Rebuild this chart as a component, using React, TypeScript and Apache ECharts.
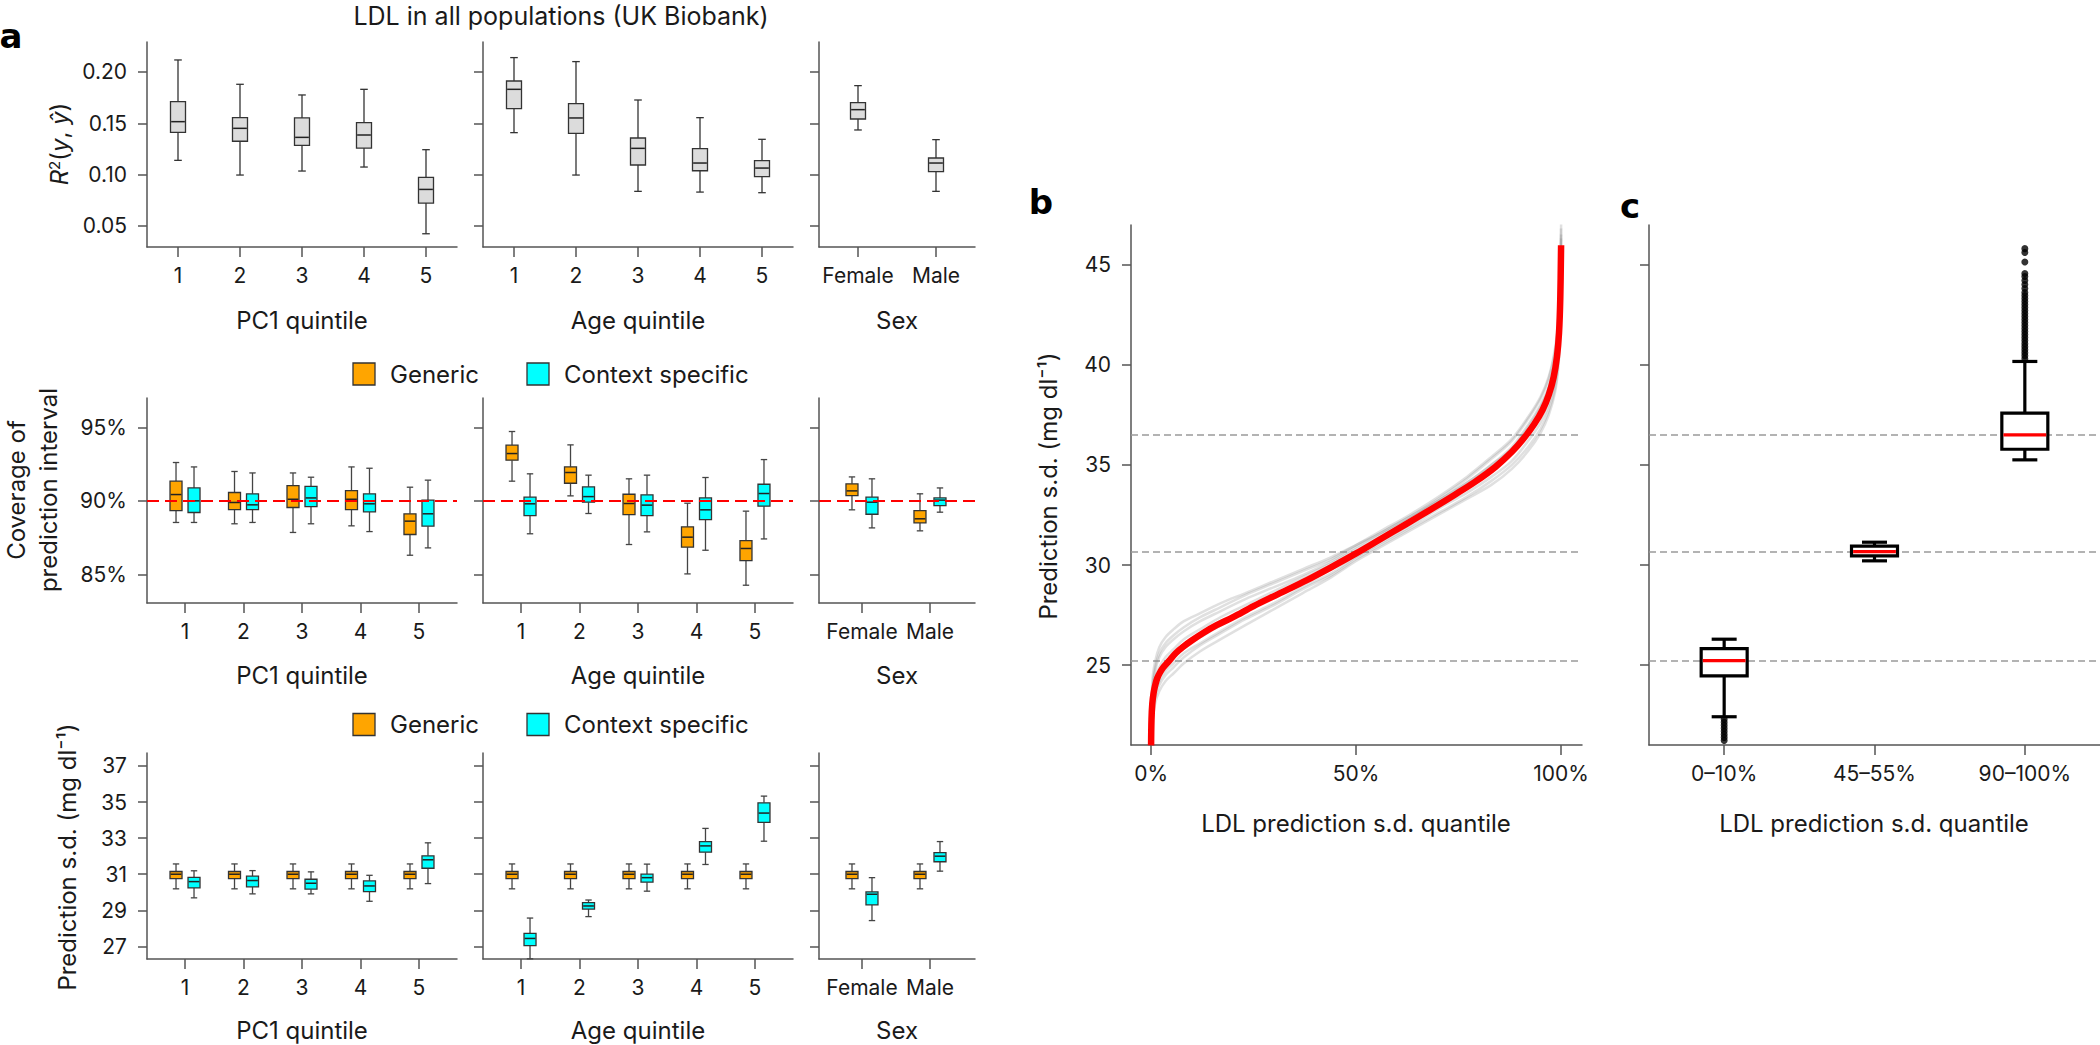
import React, { useEffect, useRef } from "react";
import * as echarts from "echarts";

// ---------- DATA ----------
// box rows: [lower whisker, Q1, median, Q3, upper whisker]
const quintileCats = ["1", "2", "3", "4", "5"];
const sexCats = ["Female", "Male"];
const cCats = ["0–10%", "45–55%", "90–100%"];

const pc1R2 = [
  [0.1139, 0.1412, 0.1516, 0.1711, 0.2117],
  [0.0996, 0.1325, 0.1451, 0.1555, 0.188],
  [0.1035, 0.1285, 0.1363, 0.1552, 0.1776],
  [0.1074, 0.1259, 0.1386, 0.1506, 0.1831],
  [0.0424, 0.0723, 0.0856, 0.0973, 0.1243],
];
const ageR2 = [
  [0.1409, 0.1643, 0.1831, 0.1912, 0.214],
  [0.0996, 0.1402, 0.1552, 0.1691, 0.2101],
  [0.0837, 0.1094, 0.1256, 0.1357, 0.1727],
  [0.083, 0.1038, 0.1113, 0.1253, 0.1555],
  [0.0824, 0.098, 0.1064, 0.1136, 0.1344],
];
const sexR2 = [
  [0.1435, 0.1542, 0.1633, 0.1701, 0.1867],
  [0.0837, 0.1029, 0.1113, 0.1162, 0.1341],
];

const pc1CovGen = [
  [88.53, 89.34, 90.43, 91.34, 92.61],
  [88.44, 89.41, 89.89, 90.57, 92.0],
  [87.85, 89.55, 90.11, 91.04, 91.9],
  [88.3, 89.41, 90.11, 90.7, 92.31],
  [86.3, 87.71, 88.62, 89.12, 90.93],
];
const pc1CovCtx = [
  [88.53, 89.21, 90.0, 90.88, 92.31],
  [88.53, 89.41, 89.73, 90.48, 91.9],
  [88.44, 89.61, 90.2, 90.98, 91.61],
  [87.91, 89.25, 89.8, 90.48, 92.22],
  [86.8, 88.28, 89.12, 90.05, 91.41],
];
const ageCovGen = [
  [91.34, 92.77, 93.22, 93.79, 94.72],
  [90.34, 91.2, 91.93, 92.31, 93.81],
  [87.03, 89.07, 89.82, 90.45, 91.5],
  [85.03, 86.85, 87.53, 88.23, 89.84],
  [84.26, 85.94, 86.76, 87.3, 89.3],
];
const ageCovCtx = [
  [87.76, 89.0, 89.8, 90.25, 91.84],
  [89.14, 89.91, 90.29, 90.95, 91.75],
  [87.89, 89.0, 89.71, 90.41, 91.75],
  [86.64, 88.73, 89.39, 90.2, 91.59],
  [87.41, 89.64, 90.5, 91.13, 92.81],
];
const sexCovGen = [
  [89.39, 90.36, 90.68, 91.16, 91.63],
  [87.96, 88.5, 88.78, 89.34, 90.48],
];
const sexCovCtx = [
  [88.16, 89.09, 89.91, 90.25, 91.5],
  [89.23, 89.68, 90.05, 90.2, 90.88],
];
const nominalCoverage = 90;

const pc1SdGen = [
  [30.19, 30.76, 31.0, 31.15, 31.57],
  [30.19, 30.76, 31.0, 31.15, 31.57],
  [30.19, 30.76, 31.0, 31.15, 31.57],
  [30.19, 30.76, 31.0, 31.15, 31.57],
  [30.19, 30.76, 31.0, 31.15, 31.57],
];
const pc1SdCtx = [
  [29.69, 30.24, 30.59, 30.83, 31.19],
  [29.91, 30.3, 30.65, 30.89, 31.2],
  [29.91, 30.17, 30.5, 30.72, 31.13],
  [29.5, 30.04, 30.35, 30.63, 30.94],
  [30.48, 31.33, 31.8, 32.02, 32.74],
];
const ageSdGen = [
  [30.19, 30.76, 31.0, 31.15, 31.57],
  [30.19, 30.76, 31.0, 31.15, 31.57],
  [30.19, 30.76, 31.0, 31.15, 31.57],
  [30.19, 30.76, 31.0, 31.15, 31.57],
  [30.19, 30.76, 31.0, 31.15, 31.57],
];
const ageSdCtx = [
  [26.31, 27.04, 27.44, 27.72, 28.57],
  [28.65, 29.07, 29.24, 29.43, 29.57],
  [30.06, 30.56, 30.81, 31.0, 31.56],
  [31.54, 32.22, 32.57, 32.81, 33.54],
  [32.83, 33.87, 34.39, 34.96, 35.33],
];
const sexSdGen = [
  [30.19, 30.76, 31.0, 31.15, 31.57],
  [30.19, 30.76, 31.0, 31.15, 31.57],
];
const sexSdCtx = [
  [28.43, 29.3, 29.89, 30.02, 30.81],
  [31.17, 31.69, 32.0, 32.2, 32.81],
];

// panel b: quantile (%) and prediction s.d. curves
const redQuant = [0, 0.1, 0.3, 0.6, 1, 1.5, 2.2, 3, 4.3, 6, 8, 10, 13, 16, 20, 25, 31, 38, 44, 50, 56, 62, 68, 74, 79, 84, 88, 91, 93.5, 95.5, 97, 98.2, 99, 99.5, 99.8, 100];
const redSd = [21.0, 22.3, 23.1, 23.6, 24.0, 24.35, 24.65, 24.9, 25.2, 25.6, 25.95, 26.25, 26.65, 27.0, 27.4, 27.95, 28.55, 29.25, 29.9, 30.58, 31.3, 32.02, 32.75, 33.5, 34.15, 34.9, 35.65, 36.35, 37.05, 37.75, 38.5, 39.4, 40.4, 41.6, 43.3, 45.96];
const grayQuant = [0, 0.3, 1, 2, 3.5, 5.5, 8, 12, 17, 23, 30, 37, 44, 50, 56, 63, 70, 77, 83, 88, 92, 95, 97, 98.5, 99.3, 99.8, 100];
const graySd = [
  [21.8, 24.2, 25.2, 25.9, 26.4, 26.8, 27.2, 27.6, 28.1, 28.6, 29.2, 29.8, 30.4, 31.0, 31.6, 32.4, 33.3, 34.3, 35.3, 36.2, 37.3, 38.3, 39.3, 40.6, 42.0, 44.3, 47.0],
  [21.0, 22.0, 23.1, 23.7, 24.2, 24.6, 25.1, 25.7, 26.3, 27.0, 27.8, 28.6, 29.4, 30.2, 30.9, 31.7, 32.5, 33.3, 34.0, 34.8, 35.7, 36.6, 37.5, 38.6, 39.8, 41.5, 44.0],
  [21.4, 23.6, 24.7, 25.4, 25.9, 26.3, 26.7, 27.2, 27.7, 28.3, 28.9, 29.5, 30.2, 30.9, 31.6, 32.4, 33.2, 34.1, 35.0, 35.9, 37.0, 38.0, 38.9, 40.2, 41.6, 43.8, 46.5],
  [21.1, 22.5, 23.6, 24.2, 24.7, 25.1, 25.6, 26.1, 26.7, 27.4, 28.1, 28.9, 29.6, 30.4, 31.1, 31.9, 32.8, 33.6, 34.4, 35.2, 36.2, 37.1, 38.0, 39.2, 40.4, 42.4, 45.2],
  [21.2, 23.1, 24.3, 24.9, 25.4, 25.8, 26.3, 26.8, 27.4, 28.0, 28.7, 29.4, 30.1, 30.8, 31.5, 32.3, 33.2, 34.1, 35.0, 35.8, 36.9, 37.9, 38.8, 40.0, 41.3, 43.5, 46.3],
  [21.0, 22.4, 23.4, 24.0, 24.5, 24.9, 25.4, 26.0, 26.6, 27.3, 28.0, 28.8, 29.5, 30.3, 31.0, 31.8, 32.6, 33.4, 34.2, 35.0, 35.9, 36.8, 37.7, 38.8, 40.1, 42.0, 44.8],
  [21.5, 23.8, 24.9, 25.6, 26.1, 26.5, 26.9, 27.4, 27.9, 28.5, 29.1, 29.7, 30.3, 31.0, 31.7, 32.5, 33.4, 34.4, 35.4, 36.3, 37.4, 38.4, 39.4, 40.8, 42.3, 44.6, 46.8],
  [21.1, 22.8, 23.9, 24.5, 25.0, 25.4, 25.9, 26.4, 27.0, 27.7, 28.4, 29.1, 29.8, 30.5, 31.3, 32.1, 33.0, 33.9, 34.8, 35.6, 36.6, 37.6, 38.6, 39.8, 41.1, 43.2, 45.6],
];
const refLines = [25.2, 30.65, 36.5];

// panel c
const cBoxes = [
  [22.43, 24.47, 25.23, 25.83, 26.3],
  [30.21, 30.46, 30.67, 30.94, 31.14],
  [35.25, 35.78, 36.5, 37.58, 40.16],
];
const cOutLow = [22.3, 22.15, 22.0, 21.85, 21.7, 21.55, 21.4, 21.25];
const cOutHigh = [45.79, 45.6, 45.12, 44.55, 44.4, 44.2, 44.0, 43.8, 43.6, 43.45, 43.3, 43.15, 43.0, 42.85, 42.7, 42.55, 42.4, 42.25, 42.1, 41.95, 41.8, 41.65, 41.5, 41.35, 41.2, 41.05, 40.9, 40.75, 40.6, 40.45, 40.3];

const r2Ticks = [0.05, 0.1, 0.15, 0.2];
const covTicks = [85, 90, 95];
const sdTicks = [27, 29, 31, 33, 35, 37];
const bTicksY = [25, 30, 35, 40, 45];
const bTicksX = [0, 50, 100];

// ---------- STYLE ----------
const FONT = 'Inter, "Noto Sans", "DejaVu Sans", sans-serif';
const AX = "#555";
const TXT = "#1a1a1a";
const ORANGE = "#FFA500";
const CYAN = "#00FFFF";
const TICK_FS = 21;
const TITLE_FS = 24;

function boxRender(o: any) {
  return (params: any, api: any) => {
    const x = api.value(0);
    const lo = api.coord([x, api.value(1)]);
    const q1 = api.coord([x, api.value(2)]);
    const md = api.coord([x, api.value(3)]);
    const q3 = api.coord([x, api.value(4)]);
    const hi = api.coord([x, api.value(5)]);
    const cx = lo[0] + o.shift;
    const ln = (x1: number, y1: number, x2: number, y2: number, stroke: string, w: number) => ({
      type: "line",
      shape: { x1, y1, x2, y2 },
      style: { stroke, lineWidth: w },
    });
    return {
      type: "group",
      children: [
        ln(cx, hi[1], cx, q3[1], o.whisker, o.lw),
        ln(cx, q1[1], cx, lo[1], o.whisker, o.lw),
        ln(cx - o.cap, hi[1], cx + o.cap, hi[1], o.whisker, o.lw),
        ln(cx - o.cap, lo[1], cx + o.cap, lo[1], o.whisker, o.lw),
        {
          type: "rect",
          shape: { x: cx - o.hw, y: q3[1], width: 2 * o.hw, height: q1[1] - q3[1] },
          style: { fill: o.fill, stroke: o.stroke, lineWidth: o.lw },
        },
        ln(cx - o.hw + o.lw / 2, md[1], cx + o.hw - o.lw / 2, md[1], o.med, o.medW),
      ],
    };
  };
}

function boxSeries(gi: number, rows: number[][], o: any, extra: any = {}) {
  return {
    type: "custom",
    xAxisIndex: gi,
    yAxisIndex: gi,
    renderItem: boxRender(o),
    encode: { x: 0, y: [1, 2, 3, 4, 5] },
    data: rows.map((r, i) => [i + 1, ...r]),
    clip: false,
    silent: true,
    z: 3,
    ...extra,
  };
}

function xAx(gi: number, min: number, max: number, vals: number[], fmt: (v: number) => string) {
  return {
    type: "value",
    gridIndex: gi,
    min,
    max,
    axisLine: { show: true, onZero: false, lineStyle: { color: AX, width: 1.5 } },
    axisTick: { show: true, customValues: vals, length: 10, lineStyle: { color: AX, width: 1.5 } },
    axisLabel: { show: true, customValues: vals, formatter: fmt, margin: 18, fontSize: TICK_FS, color: TXT, fontFamily: FONT },
    splitLine: { show: false },
  };
}
function yAx(gi: number, min: number, max: number, vals: number[], fmt: (v: number) => string, showLabel = true) {
  return {
    type: "value",
    gridIndex: gi,
    min,
    max,
    axisLine: { show: true, onZero: false, lineStyle: { color: AX, width: 1.5 } },
    axisTick: { show: true, customValues: vals, length: 9, lineStyle: { color: AX, width: 1.5 } },
    axisLabel: { show: showLabel, customValues: vals, formatter: fmt, margin: 20, fontSize: TICK_FS, color: TXT, fontFamily: FONT },
    splitLine: { show: false },
  };
}

function txt(x: number, y: number, text: string, fs: number, extra: any = {}, rot = 0) {
  return {
    type: "text",
    x,
    y,
    rotation: rot,
    silent: true,
    style: {
      text,
      fontSize: fs,
      fontFamily: FONT,
      fill: TXT,
      align: "center",
      verticalAlign: "middle",
      ...extra,
    },
  };
}

function buildOption() {
  const rowsTop = [42, 398, 753];
  const rowsH = [205, 205, 206];
  const cols = [
    { left: 147, width: 310 },
    { left: 483, width: 310 },
    { left: 819, width: 156 },
  ];
  const grids: any[] = [];
  for (let r = 0; r < 3; r++)
    for (let c = 0; c < 3; c++)
      grids.push({ left: cols[c].left, top: rowsTop[r], width: cols[c].width, height: rowsH[r], containLabel: false, outerBoundsMode: "none" });
  grids.push({ left: 1131, top: 225, width: 451, height: 520, containLabel: false, outerBoundsMode: "none" });
  grids.push({ left: 1649, top: 225, width: 451, height: 520, containLabel: false, outerBoundsMode: "none" });

  const qf = (v: number) => quintileCats[Math.round(v) - 1] ?? "";
  const sf = (v: number) => sexCats[Math.round(v) - 1] ?? "";
  const cf = (v: number) => cCats[Math.round(v) - 1] ?? "";
  const q5 = [1, 2, 3, 4, 5];
  const s2 = [1, 2];

  const xs: any[] = [
    xAx(0, 0.5, 5.5, q5, qf),
    xAx(1, 0.5, 5.5, q5, qf),
    xAx(2, 0.5, 2.5, s2, sf),
    xAx(3, 0.35, 5.65, q5, qf),
    xAx(4, 0.35, 5.65, q5, qf),
    xAx(5, 0.368, 2.662, s2, sf),
    xAx(6, 0.35, 5.65, q5, qf),
    xAx(7, 0.35, 5.65, q5, qf),
    xAx(8, 0.368, 2.662, s2, sf),
    xAx(9, -4.9, 105.1, bTicksX, (v: number) => v + "%"),
    xAx(10, 0.5, 3.5, [1, 2, 3], cf),
  ];
  const r2f = (v: number) => v.toFixed(2);
  const pf = (v: number) => v + "%";
  const nf = (v: number) => String(v);
  const ys: any[] = [
    yAx(0, 0.0295, 0.2292, r2Ticks, r2f),
    yAx(1, 0.0295, 0.2292, r2Ticks, r2f, false),
    yAx(2, 0.0295, 0.2292, r2Ticks, r2f, false),
    yAx(3, 83.05, 97.0, covTicks, pf),
    yAx(4, 83.05, 97.0, covTicks, pf, false),
    yAx(5, 83.05, 97.0, covTicks, pf, false),
    yAx(6, 26.3, 37.72, sdTicks, nf),
    yAx(7, 26.3, 37.72, sdTicks, nf, false),
    yAx(8, 26.3, 37.72, sdTicks, nf, false),
    yAx(9, 21.02, 46.97, bTicksY, nf),
    yAx(10, 21.02, 46.97, bTicksY, nf, false),
  ];

  const grayBox = { shift: 0, hw: 7.5, cap: 3.8, fill: "#dcdcdc", stroke: "#333", whisker: "#333", lw: 1.3, med: "#222", medW: 1.5 };
  const gen = (shift: number) => ({ shift, hw: 6, cap: 3.2, fill: ORANGE, stroke: "#333", whisker: "#444", lw: 1.3, med: "#222", medW: 1.5 });
  const ctx = (shift: number) => ({ shift, hw: 6, cap: 3.2, fill: CYAN, stroke: "#333", whisker: "#444", lw: 1.3, med: "#222", medW: 1.5 });
  const redRef = {
    silent: true,
    symbol: ["none", "none"],
    label: { show: false },
    lineStyle: { color: "#ff0000", type: [12, 6], width: 2 },
    data: [{ yAxis: nominalCoverage }],
  };
  const grayRef = {
    silent: true,
    z: 1,
    symbol: ["none", "none"],
    label: { show: false },
    lineStyle: { color: "#9a9a9a", type: [7, 4], width: 1.5 },
    data: refLines.map((v) => ({ yAxis: v })),
  };

  const series: any[] = [
    boxSeries(0, pc1R2, grayBox),
    boxSeries(1, ageR2, grayBox),
    boxSeries(2, sexR2, grayBox),
    boxSeries(3, pc1CovGen, gen(-9), { markLine: redRef }),
    boxSeries(3, pc1CovCtx, ctx(9)),
    boxSeries(4, ageCovGen, gen(-9), { markLine: redRef }),
    boxSeries(4, ageCovCtx, ctx(9)),
    boxSeries(5, sexCovGen, gen(-10), { markLine: redRef }),
    boxSeries(5, sexCovCtx, ctx(10)),
    boxSeries(6, pc1SdGen, gen(-9)),
    boxSeries(6, pc1SdCtx, ctx(9)),
    boxSeries(7, ageSdGen, gen(-9)),
    boxSeries(7, ageSdCtx, ctx(9)),
    boxSeries(8, sexSdGen, gen(-10)),
    boxSeries(8, sexSdCtx, ctx(10)),
  ];

  graySd.forEach((g, k) => {
    series.push({
      type: "line",
      xAxisIndex: 9,
      yAxisIndex: 9,
      data: grayQuant.map((q, i) => [q, g[i]]),
      showSymbol: false,
      symbol: "none",
      smooth: 0.35,
      silent: true,
      z: 2,
      lineStyle: { color: "rgba(130,130,130,0.25)", width: 2.5 },
      ...(k === 0 ? { markLine: grayRef } : {}),
    });
  });
  series.push({
    type: "line",
    xAxisIndex: 9,
    yAxisIndex: 9,
    data: redQuant.map((q, i) => [q, redSd[i]]),
    showSymbol: false,
    symbol: "none",
    smooth: 0.35,
    silent: true,
    z: 4,
    lineStyle: { color: "#ff0000", width: 6.5, cap: "butt", join: "round" },
  });

  series.push({
    type: "scatter",
    xAxisIndex: 10,
    yAxisIndex: 10,
    data: [...cOutLow.map((v) => [1, v]), ...cOutHigh.map((v) => [3, v])],
    symbol: "circle",
    symbolSize: 7,
    itemStyle: { color: "#000" },
    silent: true,
    z: 2,
    markLine: grayRef,
  });
  series.push(
    boxSeries(10, cBoxes, { shift: 0, hw: 23, cap: 12.5, fill: "#fff", stroke: "#000", whisker: "#000", lw: 3.2, med: "#ff0000", medW: 3.2 }, { z: 4 })
  );

  const rich = {
    i: { fontStyle: "italic", fontSize: TITLE_FS, fontFamily: FONT, fill: TXT },
    n: { fontSize: TITLE_FS, fontFamily: FONT, fill: TXT },
    sup: { fontSize: 15, fontFamily: FONT, fill: TXT, verticalAlign: "top" },
  };

  const graphic: any[] = [
    txt(561, 16, "LDL in all populations (UK Biobank)", 25),
    txt(11, 36, "a", 34, { fontWeight: 900, fontFamily: '"DejaVu Sans", sans-serif', fill: "#000" }),
    txt(1041, 202, "b", 34, { fontWeight: 900, fontFamily: '"DejaVu Sans", sans-serif', fill: "#000" }),
    txt(1630, 206, "c", 34, { fontWeight: 900, fontFamily: '"DejaVu Sans", sans-serif', fill: "#000" }),
    {
      type: "text",
      x: 59,
      y: 144,
      rotation: Math.PI / 2,
      silent: true,
      style: {
        text: "{i|R}{sup|2}{n|(}{i|y}{n|, }{i|ŷ}{n|)}",
        rich,
        align: "center",
        verticalAlign: "middle",
        fontSize: TITLE_FS,
        fontFamily: FONT,
        fill: TXT,
      },
    },
    txt(16, 490, "Coverage of", TITLE_FS, {}, Math.PI / 2),
    txt(48, 490, "prediction interval", TITLE_FS, {}, Math.PI / 2),
    txt(67, 857, "Prediction s.d. (mg dl⁻¹)", TITLE_FS, {}, Math.PI / 2),
    txt(1048, 486, "Prediction s.d. (mg dl⁻¹)", TITLE_FS, {}, Math.PI / 2),
    txt(302, 320, "PC1 quintile", TITLE_FS),
    txt(638, 320, "Age quintile", TITLE_FS),
    txt(897, 320, "Sex", TITLE_FS),
    txt(302, 675, "PC1 quintile", TITLE_FS),
    txt(638, 675, "Age quintile", TITLE_FS),
    txt(897, 675, "Sex", TITLE_FS),
    txt(302, 1030, "PC1 quintile", TITLE_FS),
    txt(638, 1030, "Age quintile", TITLE_FS),
    txt(897, 1030, "Sex", TITLE_FS),
    txt(1356, 823, "LDL prediction s.d. quantile", TITLE_FS),
    txt(1874, 823, "LDL prediction s.d. quantile", TITLE_FS),
  ];
  [{ y: 374 }, { y: 724.5 }].forEach(({ y }) => {
    graphic.push({ type: "rect", silent: true, shape: { x: 353, y: y - 11, width: 22, height: 22 }, style: { fill: ORANGE, stroke: "#333", lineWidth: 1.3 } });
    graphic.push(txt(390, y, "Generic", TITLE_FS, { align: "left" }));
    graphic.push({ type: "rect", silent: true, shape: { x: 527, y: y - 11, width: 22, height: 22 }, style: { fill: CYAN, stroke: "#333", lineWidth: 1.3 } });
    graphic.push(txt(564, y, "Context specific", TITLE_FS, { align: "left" }));
  });

  return {
    animation: false,
    backgroundColor: "#ffffff",
    textStyle: { fontFamily: FONT },
    grid: grids,
    xAxis: xs,
    yAxis: ys,
    series,
    graphic: { elements: graphic },
  };
}

export default function App() {
  const ref = useRef<HTMLDivElement>(null);
  useEffect(() => {
    if (!ref.current) return;
    const chart = echarts.init(ref.current, null, { renderer: "svg", width: 2100, height: 1045 });
    chart.setOption(buildOption() as any);
    return () => chart.dispose();
  }, []);
  return (
    <div
      ref={ref}
      style={{ position: "fixed", left: 0, top: 0, width: 2100, height: 1045, background: "#fff" }}
    />
  );
}
